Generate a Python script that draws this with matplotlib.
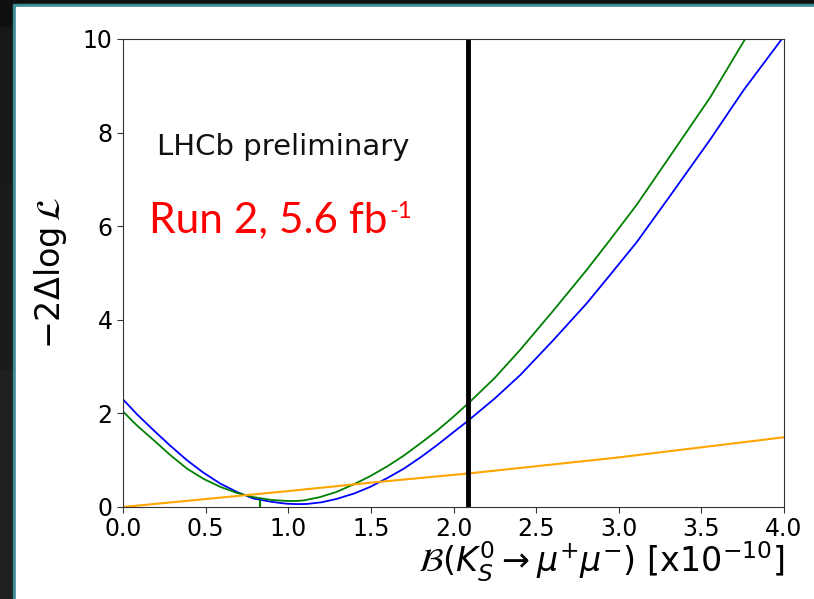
import numpy as np
import matplotlib.pyplot as plt
from matplotlib.patches import Rectangle

# profile likelihood scans, -2 delta log L vs branching fraction [x1e-10]
bf_blue = [0.0, 0.085, 0.185, 0.286, 0.387, 0.488, 0.589, 0.69, 0.79, 0.90, 0.99, 1.05, 1.11, 1.20, 1.29, 1.40,
           1.496, 1.60, 1.70, 1.80, 1.90, 2.00, 2.08, 2.25, 2.404, 2.60, 2.807, 2.95, 3.109, 3.311, 3.553,
           3.754, 3.987]
nll_blue = [2.30, 1.98, 1.64, 1.31, 1.00, 0.73, 0.50, 0.32, 0.18, 0.11, 0.07, 0.062, 0.064, 0.10, 0.17, 0.29,
            0.43, 0.62, 0.82, 1.06, 1.32, 1.60, 1.82, 2.32, 2.82, 3.55, 4.355, 4.97, 5.66, 6.65, 7.85,
            8.90, 10.0]

bf_green = [0.0, 0.085, 0.185, 0.286, 0.387, 0.488, 0.589, 0.69, 0.79, 0.90, 0.99, 1.04, 1.093, 1.19, 1.29,
            1.40, 1.496, 1.60, 1.70, 1.80, 1.90, 2.00, 2.10, 2.25, 2.404, 2.60, 2.807, 2.95, 3.109, 3.311,
            3.553, 3.765]
nll_green = [2.04, 1.74, 1.43, 1.11, 0.82, 0.60, 0.43, 0.30, 0.21, 0.15, 0.13, 0.128, 0.14, 0.21, 0.32,
             0.49, 0.66, 0.87, 1.10, 1.36, 1.63, 1.93, 2.25, 2.76, 3.36, 4.18, 5.07, 5.72, 6.46, 7.50,
             8.75, 10.0]

bf_orange = [0.0, 1.0, 1.5, 2.1, 3.0, 4.0]
nll_orange = [0.0, 0.34, 0.52, 0.72, 1.06, 1.49]

upper_limit = 2.09
green_marker = 0.83
green_marker_top = 0.14

fig = plt.figure(figsize=(8.14, 5.99), dpi=100)
fig.patch.set_facecolor("#0f0f0f")

W, H = 814, 599
# slide background strips and the white panel with its teal edge
for y0, y1, col in [(27, 183, "#171717"), (183, 370, "#1b1b1b"), (370, 599, "#202020")]:
    fig.patches.append(Rectangle((0, 1 - y1 / H), 13 / W, (y1 - y0) / H,
                                 transform=fig.transFigure, color=col, zorder=-10))
fig.patches.append(Rectangle((13 / W, 0), 1 - 13 / W, 1 - 4 / H,
                             transform=fig.transFigure, color="#3d8a92", zorder=-10))
fig.patches.append(Rectangle((16 / W, 0), 1 - 16 / W, 1 - 7 / H,
                             transform=fig.transFigure, color="white", zorder=-9))

ax = fig.add_axes([123 / W, 1 - 507 / H, (784 - 123) / W, (507 - 39) / H])
ax.set_facecolor("white")

ax.plot(bf_blue, nll_blue, color="blue", lw=1.3)
ax.plot(bf_green, nll_green, color="green", lw=1.3)
ax.plot(bf_orange, nll_orange, color="orange", lw=1.5)
ax.vlines(green_marker, 0, green_marker_top, color="green", lw=1.5)
ax.axvline(upper_limit, color="black", lw=3.5)

ax.set_xlim(0, 4)
ax.set_ylim(0, 10)
ax.set_xticks(np.arange(0, 4.01, 0.5))
ax.set_yticks([0, 2, 4, 6, 8, 10])
ax.tick_params(labelsize=17, length=4, color="#333333")
for s in ax.spines.values():
    s.set_color("#333333")

ax.set_xlabel(r"$\mathcal{B}(K^0_S \rightarrow \mu^{+}\mu^{-})$ [x$10^{-10}$]",
              fontsize=24, loc="right", labelpad=-1)
ax.set_ylabel(r"$-2\Delta\log\mathcal{L}$", fontsize=24, labelpad=10)

fig.text(157 / W, 1 - 155 / H, "LHCb preliminary", fontsize=21, color="#111111", va="baseline")
run = fig.text(149 / W, 1 - 232 / H, "Run 2, 5.6 fb", fontsize=30.5, color="red",
               family="Lato", va="baseline")

# superscript placed right after the main red text
fig.canvas.draw()
bb = run.get_window_extent()
fig.text((bb.x1 + 2) / W, 1 - 218 / H, "-1", fontsize=17, color="red",
         family="Lato", va="baseline")

fig.savefig("out.png", dpi=100, facecolor=fig.get_facecolor())
